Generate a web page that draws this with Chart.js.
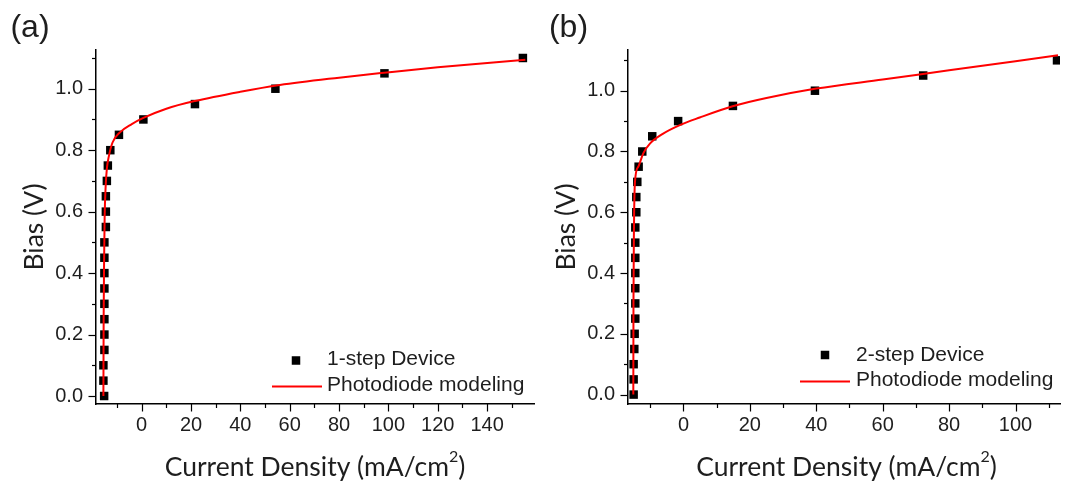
<!DOCTYPE html>
<html>
<head>
<meta charset="utf-8">
<script src="https://cdn.jsdelivr.net/npm/chart.js@4"></script>
<style>
html, body { margin: 0; padding: 0; background: #fff; }
#wrap { position: relative; width: 1066px; height: 487px; }
.box { position: absolute; top: 0; height: 487px; }
#boxA { left: 0; width: 540px; }
#boxB { left: 540px; width: 526px; }
</style>
</head>
<body>
<div id="wrap">
  <div class="box" id="boxA"><canvas id="chartA"></canvas></div>
  <div class="box" id="boxB"><canvas id="chartB"></canvas></div>
</div>
<script>
// measured points (bias in V, current density in mA/cm2)
const biasA = [0, 0.05, 0.1, 0.15, 0.2, 0.25, 0.3, 0.35, 0.4, 0.45, 0.5, 0.55, 0.6, 0.65, 0.7, 0.75, 0.8, 0.85, 0.9, 0.95, 1.0, 1.05, 1.1];
const currentA = [-15.2, -15.5, -15.5, -15.1, -15.1, -15.1, -15.1, -15.1, -15.1, -15.1, -15.1, -14.5, -14.5, -14.5, -14.1, -13.7, -12.7, -9.2, 0.7, 21.6, 54.2, 98.4, 154.5];

const biasB = [0, 0.05, 0.1, 0.15, 0.2, 0.25, 0.3, 0.35, 0.4, 0.45, 0.5, 0.55, 0.6, 0.65, 0.7, 0.75, 0.8, 0.85, 0.9, 0.95, 1.0, 1.05, 1.1];
const currentB = [-15.0, -15.0, -15.0, -14.8, -14.7, -14.5, -14.5, -14.5, -14.5, -14.5, -14.5, -14.5, -14.2, -14.2, -13.9, -13.5, -12.4, -9.4, -1.6, 14.9, 39.6, 72.2, 112.5];

// photodiode model curves
const modelCurrentA = [-15.5, -15.4, -15.2, -15.0, -14.6, -14.1, -13.3, -11.8, -8.8, -4, 0.7, 10, 21.6, 40, 56, 80, 98.2, 120, 155.5];
const modelBiasA = [0, 0.25, 0.45, 0.58, 0.68, 0.74, 0.78, 0.825, 0.858, 0.885, 0.905, 0.935, 0.96, 0.99, 1.012, 1.036, 1.052, 1.07, 1.094];

const modelCurrentB = [-15.1, -15.05, -14.9, -14.6, -13.6, -12.1, -10.1, -6.1, -1.1, 4.9, 14.8, 25, 40, 60, 80, 100, 112.8];
const modelBiasB = [0, 0.3, 0.55, 0.7, 0.75, 0.794, 0.826, 0.859, 0.887, 0.912, 0.949, 0.976, 1.007, 1.037, 1.067, 1.097, 1.117];

// ticks
const xMajorA = [0, 20, 40, 60, 80, 100, 120, 140];
const xMinorA = [-10, 10, 30, 50, 70, 90, 110, 130, 150];
const xMajorB = [0, 20, 40, 60, 80, 100];
const xMinorB = [-10, 10, 30, 50, 70, 90, 110];
const yMajor = [0, 0.2, 0.4, 0.6, 0.8, 1.0];
const yMinor = [0.1, 0.3, 0.5, 0.7, 0.9, 1.1];

const TICK_FONT = { family: "'Liberation Sans', Arial, sans-serif", size: 20 };
const TEXT = '#1e1e1e';
const TITLE_FONT = "26.5px Lato, 'Liberation Sans', sans-serif";
const SUP_FONT = "16px Lato, 'Liberation Sans', sans-serif";

function has(list, v) {
    return list.some(t => Math.abs(t - v) < 1e-9);
}

function toPoints(xs, ys) {
    return xs.map((x, i) => ({ x: x, y: ys[i] }));
}

// ticks, legend, titles and panel letter
function decor(o) {
    return {
        id: 'decor',
        afterDraw(chart) {
            const ctx = chart.ctx;
            const xs = chart.scales.x, ys = chart.scales.y;
            const a = chart.chartArea;
            ctx.save();
            ctx.strokeStyle = '#000';
            ctx.lineWidth = 1.2;
            o.xMajor.concat(o.xMinor).forEach(v => {
                const px = Math.round(xs.getPixelForValue(v)) + 0.5;
                const len = has(o.xMajor, v) ? 7.5 : 4;
                ctx.beginPath(); ctx.moveTo(px, a.bottom); ctx.lineTo(px, a.bottom + len); ctx.stroke();
            });
            yMajor.concat(yMinor).forEach(v => {
                const py = Math.round(ys.getPixelForValue(v)) + 0.5;
                const len = has(yMajor, v) ? 7.5 : 4;
                ctx.beginPath(); ctx.moveTo(a.left - len, py); ctx.lineTo(a.left, py); ctx.stroke();
            });

            // legend
            const L = o.legend;
            ctx.fillStyle = '#000';
            ctx.fillRect(L.mx - 4.25, L.my - 4.25, 8.5, 8.5);
            ctx.strokeStyle = '#ff0000';
            ctx.lineWidth = 2;
            ctx.beginPath(); ctx.moveTo(L.lx0, L.ly); ctx.lineTo(L.lx1, L.ly); ctx.stroke();
            ctx.fillStyle = TEXT;
            ctx.font = "21px 'Liberation Sans', Arial, sans-serif";
            ctx.textAlign = 'left';
            ctx.textBaseline = 'middle';
            ctx.fillText(o.dataLabel, L.tx, L.ty1);
            ctx.fillText('Photodiode modeling', L.tx, L.ty2);

            // panel letter
            ctx.font = "32px 'Liberation Sans', Arial, sans-serif";
            ctx.textAlign = 'center';
            ctx.fillText(o.panel, o.panelX, 28);

            // axis titles
            ctx.font = TITLE_FONT;
            ctx.save();
            ctx.translate(o.yTitleX, 227);
            ctx.rotate(-Math.PI / 2);
            ctx.fillText('Bias (V)', 0, 0);
            ctx.restore();

            const main = 'Current Density (mA/cm', end = ')';
            const wMain = ctx.measureText(main).width;
            const wEnd = ctx.measureText(end).width;
            ctx.font = SUP_FONT;
            const wSup = ctx.measureText('2').width;
            const x0 = o.xTitleX - (wMain + wSup + wEnd) / 2;
            ctx.textAlign = 'left';
            ctx.font = TITLE_FONT;
            ctx.fillText(main, x0, 467);
            ctx.font = SUP_FONT;
            ctx.fillText('2', x0 + wMain, 457);
            ctx.font = TITLE_FONT;
            ctx.fillText(end, x0 + wMain + wSup, 467);
            ctx.restore();
        }
    };
}

function makeChart(id, o) {
    return new Chart(document.getElementById(id), {
        type: 'scatter',
        data: {
            datasets: [{
                label: o.dataLabel,
                data: toPoints(o.current, o.bias),
                pointStyle: 'rect',
                pointRadius: 6,
                backgroundColor: '#000',
                borderWidth: 0,
                order: 1
            }, {
                label: 'Photodiode modeling',
                data: toPoints(o.modelCurrent, o.modelBias),
                showLine: true,
                pointRadius: 0,
                borderColor: '#ff0000',
                borderWidth: 2,
                cubicInterpolationMode: 'monotone',
                order: 0
            }]
        },
        options: {
            responsive: true,
            maintainAspectRatio: false,
            animation: false,
            layout: { padding: { top: 50, right: o.padRight, left: 0, bottom: 0 } },
            plugins: { legend: { display: false }, tooltip: { enabled: false } },
            scales: {
                x: {
                    type: 'linear',
                    min: o.xMin, max: o.xMax,
                    grid: { display: false, drawTicks: false },
                    border: { display: true, color: '#000', width: 1.5 },
                    afterBuildTicks: s => { s.ticks = o.xMajor.concat(o.xMinor).sort((p, q) => p - q).map(v => ({ value: v })); },
                    afterFit: s => { s.height = 83; },
                    ticks: {
                        autoSkip: false, maxRotation: 0, padding: 9,
                        color: TEXT, font: TICK_FONT,
                        callback: v => has(o.xMajor, v) ? String(v) : ''
                    }
                },
                y: {
                    type: 'linear',
                    min: o.yMin, max: o.yMax,
                    grid: { display: false, drawTicks: false },
                    border: { display: true, color: '#000', width: 1.5 },
                    afterBuildTicks: s => { s.ticks = yMajor.concat(yMinor).sort((p, q) => p - q).map(v => ({ value: v })); },
                    afterFit: s => { s.width = o.yWidth; },
                    ticks: {
                        autoSkip: false, padding: 13,
                        color: TEXT, font: TICK_FONT,
                        callback: v => has(yMajor, v) ? v.toFixed(1) : ''
                    }
                }
            }
        },
        plugins: [decor(o)]
    });
}

makeChart('chartA', {
    current: currentA, bias: biasA,
    modelCurrent: modelCurrentA, modelBias: modelBiasA,
    dataLabel: '1-step Device', panel: '(a)', panelX: 30,
    xMajor: xMajorA, xMinor: xMinorA,
    xMin: -18.5, xMax: 159, yMin: -0.026, yMax: 1.126,
    yWidth: 96, padRight: 5.5,
    yTitleX: 34.5, xTitleX: 315,
    legend: { mx: 296, my: 360.5, lx0: 272, lx1: 322, ly: 386.5, tx: 327, ty1: 359.5, ty2: 385 }
});

makeChart('chartB', {
    current: currentB, bias: biasB,
    modelCurrent: modelCurrentB, modelBias: modelBiasB,
    dataLabel: '2-step Device', panel: '(b)', panelX: 28.5,
    xMajor: xMajorB, xMinor: xMinorB,
    xMin: -16.7, xMax: 113.4, yMin: -0.031, yMax: 1.134,
    yWidth: 88, padRight: 5.5,
    yTitleX: 26, xTitleX: 306.5,
    legend: { mx: 285, my: 355, lx0: 260, lx1: 310, ly: 381.5, tx: 316, ty1: 355, ty2: 380 }
});
</script>
</body>
</html>
